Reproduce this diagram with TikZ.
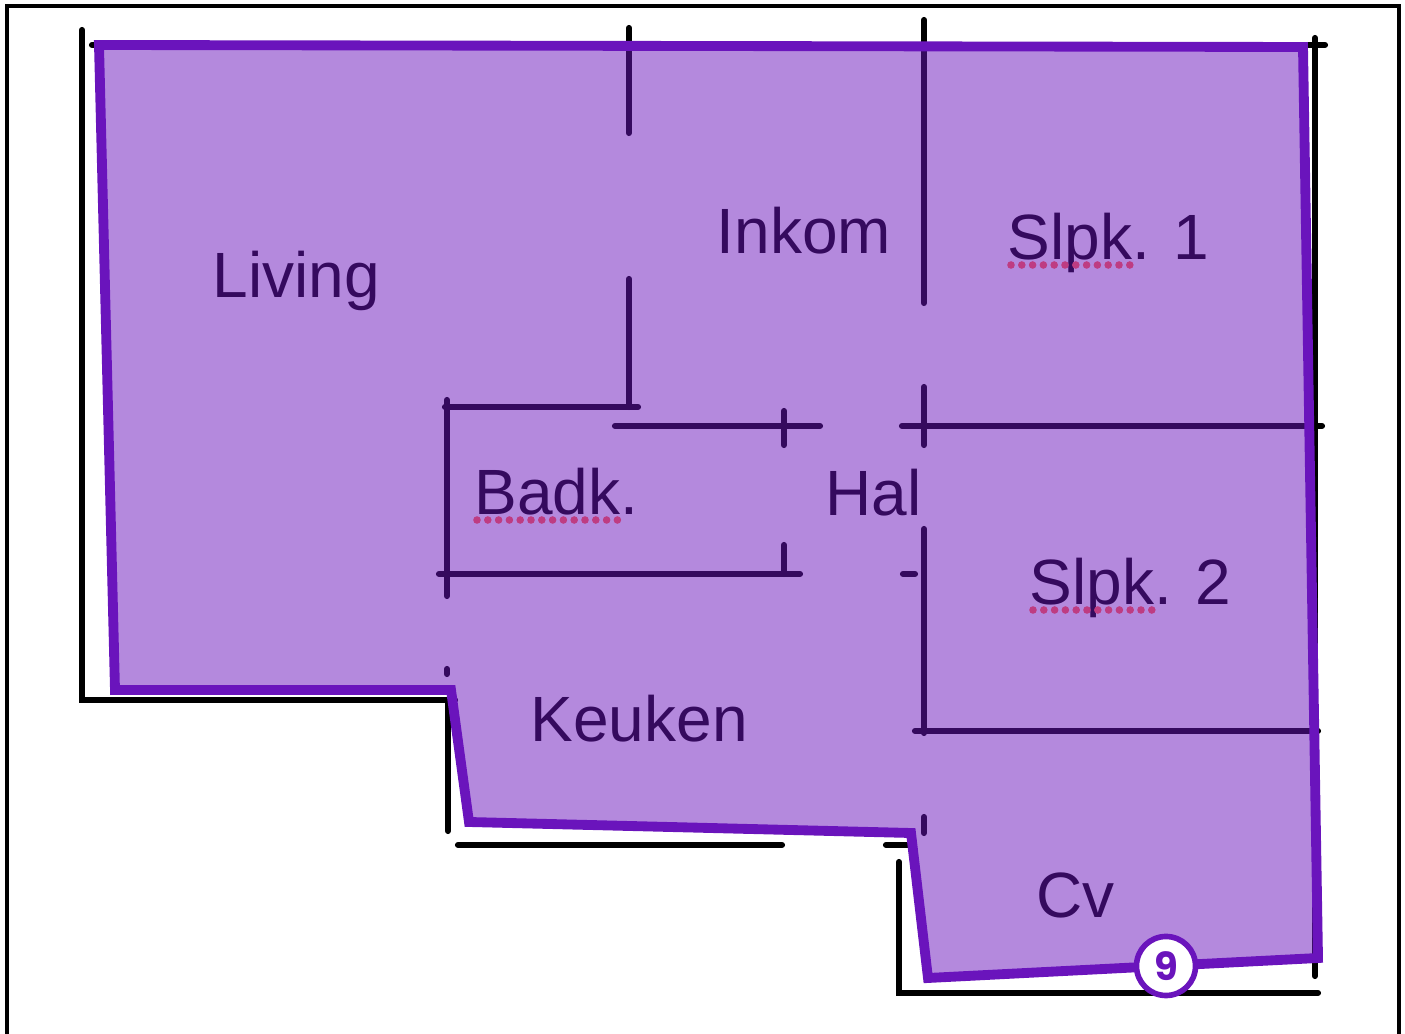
\documentclass[tikz,border=0pt]{standalone}
\usepackage{fontspec}
\setmainfont{Liberation Sans}
\newfontfamily\badgefont{Poppins}
\definecolor{planpurple}{HTML}{6A14BC}
\definecolor{spellpink}{HTML}{BE3C82}
\tikzset{
    wall/.style = {line width = 1.75pt, line cap = round},
    room/.style = {inner sep = 0pt, anchor = base west, font = \fontsize{18.2pt}{20pt}\selectfont},
    spelldot/.style = {fill = spellpink}
}

\begin{document}
\begin{tikzpicture}[x=0.01cm,y=-0.01cm]
    \useasboundingbox (0,0) rectangle (1405,1034);
    \draw[line width = 1pt] (7,1034) -- (7,6) -- (1399,6) -- (1399,1034);

    % outer walls
    \draw[wall] (82,30) -- (82,700) -- (455,700);
    \draw[wall] (92,45) -- (1325,45);
    \draw[wall] (448,700) -- (448,831);
    \draw[wall] (458,845) -- (782,845);
    \draw[wall] (886,845) -- (910,845);
    \draw[wall] (899,862) -- (899,993) -- (1318,993);
    \draw[wall] (1315,38) -- (1315,976);

    % inner walls
    \draw[wall] (629,28) -- (629,133);
    \draw[wall] (629,279) -- (629,407);
    \draw[wall] (445,407) -- (638,407);
    \draw[wall] (447,400) -- (447,596);
    \draw[wall] (447,669) -- (447,674);
    \draw[wall] (439,574) -- (800,574);
    \draw[wall] (615,426) -- (820,426);
    \draw[wall] (784,411) -- (784,445);
    \draw[wall] (784,545) -- (784,574);
    \draw[wall] (902,426) -- (1322,426);
    \draw[wall] (924,20) -- (924,303);
    \draw[wall] (924,387) -- (924,445);
    \draw[wall] (924,529) -- (924,733);
    \draw[wall] (924,817) -- (924,833);
    \draw[wall] (903,574) -- (915,574);
    \draw[wall] (915,731) -- (1318,731);

    % room names
    \node[room] (living) at (212,298) {Living};
    \node[room] (inkom) at (716,254) {Inkom};
    \node[room] (slpka) at (1007,260) {Slpk. 1};
    \node[room] (badk) at (474,515) {Badk.};
    \node[room] (hal) at (825,516) {Hal};
    \node[room] (slpkb) at (1029,605) {Slpk. 2};
    \node[room] (keuken) at (530,742) {Keuken};
    \node[room] (cv) at (1036,918) {Cv};

    % marked area
    \draw[planpurple, fill = planpurple, fill opacity = 0.5, line width = 2.8pt, miter limit = 10]
        (99,45) -- (1303,47) -- (1318,958) -- (928,978) -- (911,833) -- (469,822) -- (451,690) -- (115,690) -- cycle;

    % spell check dots
    \foreach \x in {0,...,11} {
        \fill[spelldot] ({1011+10.8*\x},265) circle [radius = 3.8];
        \fill[spelldot] ({1033+10.8*\x},610) circle [radius = 3.8];
    }
    \foreach \x in {0,...,13} {
        \fill[spelldot] ({477+10.8*\x},520) circle [radius = 3.8];
    }

    \node[circle, draw = planpurple, fill = white, line width = 1.6pt, minimum size = 0.59cm, inner sep = 0pt,
        text = planpurple, font = \badgefont\bfseries\fontsize{11pt}{13pt}\selectfont] (badge) at (1166,966) {9};
\end{tikzpicture}
\end{document}
